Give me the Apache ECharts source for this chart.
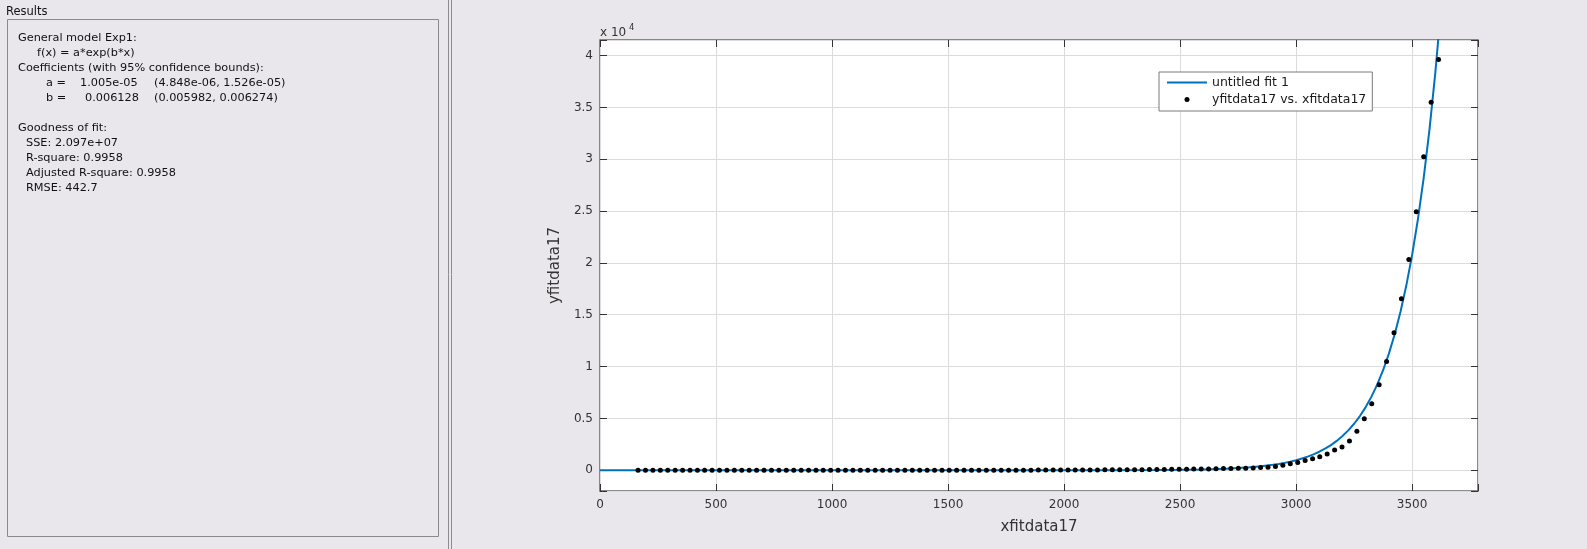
<!DOCTYPE html>
<html>
<head>
<meta charset="utf-8">
<script src="https://cdn.jsdelivr.net/npm/echarts@6/dist/echarts.min.js"></script>
<style>
html,body{margin:0;padding:0;background:#e9e7ec;}
#chart{width:1587px;height:549px;}
</style>
</head>
<body>
<div id="chart"></div>
<script>
// Data points (xfitdata17, yfitdata17)
const xData = [164,196,228,260,292,324,356,388,420,451,483,515,547,579,611,643,675,707,739,771,803,835,867,899,931,962,994,1026,1058,1090,1122,1154,1186,1218,1250,1282,1314,1346,1378,1410,1442,1474,1505,1537,1569,1601,1633,1665,1697,1729,1761,1793,1825,1857,1889,1921,1953,1985,2017,2048,2080,2112,2144,2176,2208,2240,2272,2304,2336,2368,2400,2432,2464,2496,2528,2559,2591,2623,2655,2687,2719,2751,2783,2815,2847,2879,2911,2943,2975,3007,3039,3071,3102,3134,3166,3198,3230,3262,3294,3326,3358,3390,3422,3454,3486,3518,3550,3582,3614];
const yData = [0,0,0,0,0,0,0,0,0,0,0,0,0,0,0,0,0,0,0,0,0,
  1,1,1,1,1,1,1,1,1,1,1,1,1,1,1,
  2,2,3,3,3,4,4,5,5,6,
  7,7,8,9,10,11,12,13,15,17,
  19,21,23,25,28,31,34,38,42,46,
  50,55,60,66,72,79,86,94,102,112,
  122,133,146,160,175,190,205,
  215,255,300,367,490,640,750,930,1110,1310,1570,1960,2250,2820,3770,4970,6420,8250,10500,13270,16550,20340,24945,30250,35490,39610];
// Fitted curve "untitled fit 1" (f(x) = a*exp(b*x)), values read at these x
const fitX = [0,500,1000,1500,2000,2200,2400,2500,2600,2700,2800,2850,2900,2925,2950,2975,3000,3025,3050,3075,3100,3125,3150,3175,3200,3225,3250,3275,3300,3325,3350,3375,3400,3425,3450,3475,3500,3525,3550,3575,3600,3625];
const fitY = [0,0,0,0.1,2,7,25,45,84,154,284,386,525,612,713,831,969,1129,1316,1534,1789,2085,2430,2832,3301,3848,4485,5228,6094,7103,8279,9650,11249,13112,15283,17814,20764,24203,28211,32883,38329,44676];
const xTickLabels = ['0','500','1000','1500','2000','2500','3000','3500'];
const yTickLabels = ['0','0.5','1','1.5','2','2.5','3','3.5','4'];

const resultsLines = [
  {t:'General model Exp1:', x:18, y:38},
  {t:'f(x) = a*exp(b*x)', x:37, y:53},
  {t:'Coefficients (with 95% confidence bounds):', x:18, y:68},
  {t:'a =', x:46, y:83},
  {t:'1.005e-05', x:80, y:83},
  {t:'(4.848e-06, 1.526e-05)', x:154, y:83},
  {t:'b =', x:46, y:98},
  {t:'0.006128', x:85, y:98},
  {t:'(0.005982, 0.006274)', x:154, y:98},
  {t:'Goodness of fit:', x:18, y:128},
  {t:'SSE: 2.097e+07', x:26, y:143},
  {t:'R-square: 0.9958', x:26, y:158},
  {t:'Adjusted R-square: 0.9958', x:26, y:173},
  {t:'RMSE: 442.7', x:26, y:188}
];

const FONT = '"DejaVu Sans", sans-serif';
const chart = echarts.init(document.getElementById('chart'), null, {renderer:'canvas'});

const graphics = [
  {type:'rect', shape:{x:7.5, y:19.5, width:431, height:517}, style:{fill:'none', stroke:'#8a8a8a', lineWidth:1}, z:1},
  {type:'line', shape:{x1:448.5, y1:0, x2:448.5, y2:549}, style:{stroke:'#8c8c8c', lineWidth:1}},
  {type:'line', shape:{x1:451.5, y1:0, x2:451.5, y2:549}, style:{stroke:'#8c8c8c', lineWidth:1}},
  {type:'text', x:6, y:12, style:{text:'Results', font:'11.5px '+FONT, fill:'#111', verticalAlign:'middle', align:'left'}},
  {type:'text', x:600, y:33, style:{text:'x 10', font:'12px '+FONT, fill:'#333', verticalAlign:'middle', align:'left'}},
  {type:'text', x:629, y:28, style:{text:'4', font:'8.5px '+FONT, fill:'#333', verticalAlign:'middle', align:'left'}}
];
resultsLines.forEach(l => graphics.push({type:'text', x:l.x, y:l.y, style:{text:l.t, font:'11.3px '+FONT, fill:'#111', verticalAlign:'middle', align:'left'}}));

const xFmt = v => (v % 500 === 0 && v >= 0 && v <= 3500) ? xTickLabels[v/500] : '';
const yFmt = v => (v % 5000 === 0 && v >= 0 && v <= 40000) ? yTickLabels[v/5000] : '';
const tick = {show:true, inside:true, length:7, lineStyle:{color:'#333', width:1}};

const option = {
  animation: false,
  backgroundColor: '#e9e7ec',
  graphic: graphics,
  grid: {left:600, right:109, top:40, bottom:58, show:true, backgroundColor:'#ffffff', borderColor:'#666666', borderWidth:1.5},
  legend: {
    orient:'vertical', left:1159, top:72,
    padding:[3,6,4,8], itemGap:2, itemWidth:40, itemHeight:5,
    backgroundColor:'#ffffff', borderColor:'#7a7a7a', borderWidth:1, borderRadius:0,
    textStyle:{fontFamily:FONT, fontSize:12.5, color:'#1a1a1a', lineHeight:15},
    data:[
      {name:'untitled fit 1', icon:'path://M0,0L40,0L40,2L0,2Z', itemStyle:{color:'#0072bd'}},
      {name:'yfitdata17 vs. xfitdata17', icon:'circle', itemStyle:{color:'#000000', opacity:1}}
    ]
  },
  xAxis: [
    {type:'value', position:'bottom', min:0, max:3784, interval:500,
     name:'xfitdata17', nameLocation:'middle', nameGap:29,
     nameTextStyle:{fontFamily:FONT, fontSize:15, color:'#333'},
     axisLine:{show:false, onZero:false},
     axisTick:tick,
     axisLabel:{formatter:xFmt, fontFamily:FONT, fontSize:12, color:'#333', margin:8},
     splitLine:{show:true, lineStyle:{color:'#dcdcdc', width:1}}},
    {type:'value', position:'top', min:0, max:3784, interval:500,
     axisLine:{show:false, onZero:false}, axisLabel:{show:false}, splitLine:{show:false},
     axisTick:tick}
  ],
  yAxis: [
    {type:'value', position:'left', min:-2000, max:41500, splitNumber:9,
     name:'yfitdata17', nameLocation:'middle', nameGap:32, nameRotate:90,
     nameTextStyle:{fontFamily:FONT, fontSize:15, color:'#333'},
     axisLine:{show:false, onZero:false},
     axisTick:tick,
     axisLabel:{formatter:yFmt, fontFamily:FONT, fontSize:12, color:'#333', margin:7},
     splitLine:{show:true, lineStyle:{color:'#dcdcdc', width:1}}},
    {type:'value', position:'right', min:-2000, max:41500, splitNumber:9,
     axisLine:{show:false, onZero:false}, axisLabel:{show:false}, splitLine:{show:false},
     axisTick:tick}
  ],
  series: [
    {name:'untitled fit 1', type:'line', xAxisIndex:0, yAxisIndex:0,
     data: fitX.map((x,i)=>[x, fitY[i]]), showSymbol:false, symbol:'none',
     lineStyle:{color:'#0072bd', width:2}, itemStyle:{color:'#0072bd'}, clip:true, z:2},
    {name:'yfitdata17 vs. xfitdata17', type:'scatter', xAxisIndex:0, yAxisIndex:0,
     data: xData.map((x,i)=>[x, yData[i]]), symbol:'circle', symbolSize:5,
     itemStyle:{color:'#000000', opacity:1}, z:3}
  ]
};
chart.setOption(option);
</script>
</body>
</html>
